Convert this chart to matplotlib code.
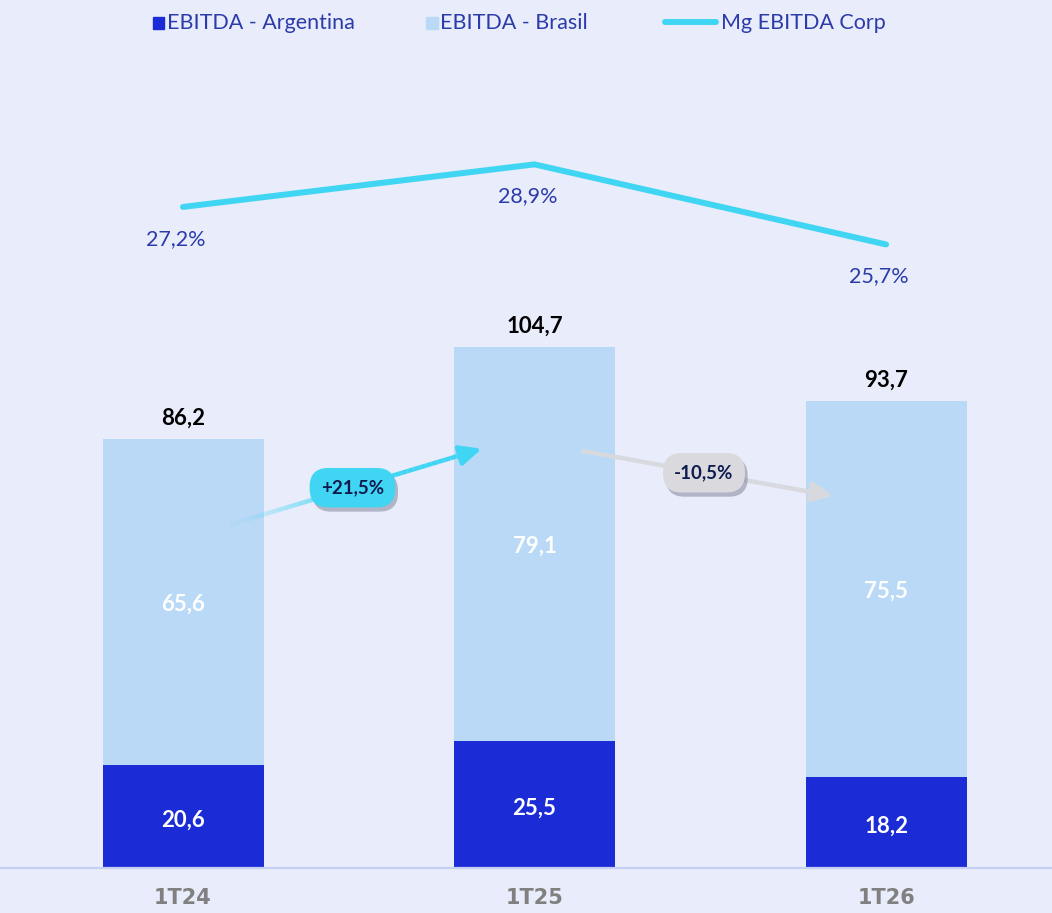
import numpy as np
import matplotlib.pyplot as plt
import matplotlib.patheffects as pe
from matplotlib.collections import LineCollection
from matplotlib.patches import Rectangle
from matplotlib.lines import Line2D

periods = ['1T24', '1T25', '1T26']
ebitda_arg = [20.6, 25.5, 18.2]
ebitda_bra = [65.6, 79.1, 75.5]
ebitda_tot = [86.2, 104.7, 93.7]
mg_ebitda = [27.2, 28.9, 25.7]

c_arg = '#1B2BD6'
c_bra = '#B9D9F6'
c_line = '#40D6F3'
c_txt = '#2B3CAA'
bg = '#E9ECFA'

def fmt(v, d=1):
    return f'{v:.{d}f}'.replace('.', ',')

plt.rcParams['font.family'] = ['Lato', 'DejaVu Sans']

fig = plt.figure(figsize=(10.52, 9.13), dpi=100)
fig.patch.set_facecolor(bg)
ax = fig.add_axes([0, 0, 1, 1])
ax.set_facecolor('none')
x = np.arange(len(periods))
ax.set_xlim(-0.5206, 2.472)
ax.set_ylim(-9.04, 174.3)
ax.axis('off')

w = 0.458
ax.bar(x, ebitda_arg, width=w, color=c_arg, zorder=2)
ax.bar(x, ebitda_bra, width=w, bottom=ebitda_arg, color=c_bra, zorder=2)
ax.axhline(0, color='#C6D0F2', lw=1.6, zorder=3)

for i in range(len(periods)):
    ax.text(x[i], ebitda_arg[i] / 2 - 0.8, fmt(ebitda_arg[i]), ha='center', va='center',
            color='white', fontsize=16, fontweight='bold', zorder=4)
    ax.text(x[i], ebitda_arg[i] + ebitda_bra[i] / 2 - 0.4, fmt(ebitda_bra[i]), ha='center',
            va='center', color='white', fontsize=16, fontweight='bold', zorder=4)
    ax.annotate(fmt(ebitda_tot[i]), (x[i], ebitda_tot[i]), xytext=(0, 15),
                textcoords='offset points', ha='center', va='center',
                color='black', fontsize=16, fontweight='bold', zorder=4)
    ax.text(x[i], -6, periods[i], ha='center', va='center', color='#808080',
            fontsize=15, fontweight='bold',
            family=['Liberation Sans Narrow', 'DejaVu Sans'])

# margin line on its own scale
ax2 = fig.add_axes([0, 0, 1, 1], sharex=ax)
ax2.set_facecolor('none')
ax2.axis('off')
ax2.set_ylim(-1.02, 35.47)
ax2.plot(x, mg_ebitda, color=c_line, lw=4.3, solid_capstyle='round',
         solid_joinstyle='round', zorder=5)
for i in range(len(periods)):
    ax2.annotate(fmt(mg_ebitda[i]) + '%', (x[i], mg_ebitda[i]), xytext=(-5, -23),
                 textcoords='offset points', ha='center', va='center',
                 color=c_txt, fontsize=15.5)

# growth arrows with badges
def growth(i, col, fade, badge_col):
    x0, x1 = x[i] + 0.134, x[i + 1] - 0.17
    y0, y1 = ebitda_tot[i] * 0.8, ebitda_tot[i + 1] * 0.8
    n = 40
    t = np.linspace(0, 1, n + 1)
    px = x0 + (x1 - x0) * t
    py = y0 + (y1 - y0) * t
    segs = [[(px[k], py[k]), (px[k + 1], py[k + 1])] for k in range(n)]
    rgba = np.array([plt.matplotlib.colors.to_rgba(col)] * n)
    if fade:
        rgba[:, 3] = np.clip(t[:-1] / 0.55, 0.05, 1)
    ax.add_collection(LineCollection(segs, colors=rgba, linewidths=3.2, zorder=5))
    slope = (y1 - y0) / (x1 - x0)
    ax.annotate('', xy=(x1 + 0.02, y1 + slope * 0.02),
                xytext=(x1 - 0.03, y1 - slope * 0.03),
                arrowprops=dict(arrowstyle='-|>,head_length=1.3,head_width=0.6',
                                color=col, lw=3.2, shrinkA=0, shrinkB=0), zorder=5)
    chg = (ebitda_tot[i + 1] / ebitda_tot[i] - 1) * 100
    lab = ('+' if chg > 0 else '-') + fmt(abs(chg)) + '%'
    xm, ym = (x0 + x1) / 2, (y0 + y1) / 2
    t = ax.text(xm, ym, lab, ha='center', va='center', fontsize=13.5, fontweight='bold',
                color='#0D1B4F', zorder=7,
                bbox=dict(boxstyle='round,pad=0.6,rounding_size=1.0', fc=badge_col, ec='none'))
    t.get_bbox_patch().set_path_effects([
        pe.SimplePatchShadow(offset=(2, -3), shadow_rgbFace='#4A4E6A', alpha=0.35),
        pe.Normal()])

growth(0, c_line, True, '#40D6F3')
growth(1, '#D8D9DE', False, '#DADADE')

# legend
ly = 1 - 23 / 913
fig.patches.append(Rectangle((153 / 1052, 1 - 29 / 913), 11 / 1052, 12 / 913,
                             transform=fig.transFigure, color=c_arg))
fig.text(167 / 1052, ly, 'EBITDA - Argentina', color=c_txt, fontsize=15.5,
         va='center', ha='left')
fig.patches.append(Rectangle((426 / 1052, 1 - 29 / 913), 12 / 1052, 12 / 913,
                             transform=fig.transFigure, color=c_bra))
fig.text(440 / 1052, ly, 'EBITDA - Brasil', color=c_txt, fontsize=15.5,
         va='center', ha='left')
fig.lines.append(Line2D([665 / 1052, 716 / 1052], [1 - 22 / 913, 1 - 22 / 913],
                        transform=fig.transFigure, color=c_line, lw=4.3,
                        solid_capstyle='round'))
fig.text(721 / 1052, ly, 'Mg EBITDA Corp', color=c_txt, fontsize=15.5,
         va='center', ha='left')

fig.savefig('out.png', dpi=100, facecolor=fig.get_facecolor())
